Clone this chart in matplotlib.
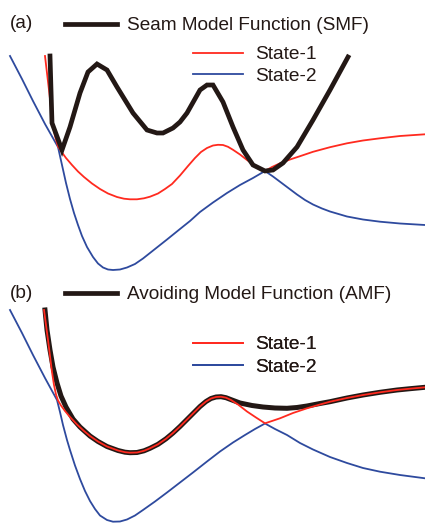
import matplotlib.pyplot as plt
from matplotlib.lines import Line2D

plt.rcParams['font.family'] = ['Liberation Sans', 'DejaVu Sans']

# colours
BLACK = '#231815'
RED = '#ff2a1f'
BLUE = '#2e4a9e'

# ---- panel (a): seam model function (coordinates, y down)
a_blue_x = [10, 22, 33, 45, 58, 62, 66, 70, 74, 78, 82, 87, 93, 98, 103, 108, 113, 120, 127,
            135, 143, 155, 167, 180, 190, 200, 213, 227, 240, 253, 265,
            273, 281, 289, 297, 305, 313, 322, 330, 347, 363, 380, 400, 425]
a_blue_y = [56, 79, 101, 124, 147, 165, 183, 199, 213, 225, 236, 247, 257, 263.5, 267.5, 269.5, 270, 269.5, 267.5,
            264, 258.5, 249, 239.5, 229, 221, 212, 202.5, 193, 185, 178, 171,
            176.5, 182.5, 188.5, 194.5, 200, 204.5, 208.5, 211.5, 216.5, 219.5, 221.7, 223.5, 225]

a_red_x = [45, 47, 49, 51, 53, 55, 57, 58, 62, 66, 72, 78, 84, 92, 100, 108, 117, 124, 130, 137, 144,
           150, 158, 165, 172, 180, 188, 195, 201, 207, 213, 218, 223, 228, 233, 240, 247, 256, 265,
           272, 280, 290, 300, 313, 330, 347, 363, 380, 400, 425]
a_red_y = [56, 73, 90, 108, 126, 136, 143, 146.5, 152.5, 158, 165, 171.5, 177, 183.5, 189, 193.5, 197, 198.7, 199.3, 199.3, 198.3,
           196.7, 193.5, 189, 184, 175.5, 166, 158, 152, 148, 145.5, 144.8, 145, 146.8, 149.8, 154.5, 160, 166, 171,
           167, 163.3, 159.5, 156.2, 151.8, 147.2, 143.3, 140.5, 138.3, 136, 134.3]

a_smf_x = [50, 51, 52, 62, 70, 80, 88, 97, 107, 117, 125, 133, 147, 157, 163, 173, 180, 187,
           200, 207, 213, 223, 233, 243, 253, 265, 273, 283, 297, 313, 330, 348]
a_smf_y = [56, 90, 123, 150, 127, 93, 72, 64, 70, 87, 100, 113, 130, 133, 133, 128, 122, 113,
           90, 85, 85, 102, 127, 150, 165, 171, 170, 163, 147, 120, 90, 57]

# ---- panel (b): avoiding model function
b_blue_x = [10, 22, 33, 45, 57, 60, 63, 67, 70, 75, 80, 85, 90, 95, 100, 107, 113, 120, 127,
            135, 143, 155, 167, 180, 193, 207, 220, 233, 245, 255, 265,
            275, 287, 300, 313, 330, 347, 363, 380, 400, 425]
b_blue_y = [310, 333, 355, 378, 400, 412, 425, 440, 450, 465.5, 479, 491, 501, 509, 515.5, 520, 521.7, 521.5, 519.5,
            515.5, 510, 501.5, 492.5, 482.5, 472.5, 461.5, 451.5, 442.5, 435, 429, 423.5,
            429, 435, 443, 449.5, 457, 463, 468, 471.7, 475, 478.3]

b_red_x = [44, 46, 48, 50, 52, 54, 56, 58, 61, 65, 70, 77, 84, 90, 98, 107, 118, 125, 130, 137, 144,
           150, 158, 166, 173, 180, 187, 194, 200, 206, 211, 216, 221, 226, 231, 238, 247, 256, 265,
           272, 280, 293, 307, 320, 330, 347, 363, 380, 397, 410, 425]
b_red_y = [310, 325, 340, 356, 372, 385, 394.5, 400.5, 405.5, 411, 417, 424.5, 431, 436, 441.5, 446.5, 450.5, 452.2, 452.7, 452.5, 450.8,
           448.3, 444.3, 438.8, 433, 426.5, 419.5, 412.5, 406.5, 401.5, 398.5, 397, 396.7, 397.7, 400, 404.5, 411.5, 417.5, 423.3,
           421, 418.3, 413, 408.3, 404.5, 401.7, 398, 395, 392.3, 390, 388.7, 387.3]

b_amf_x = [45, 47, 50, 53, 57, 61, 66, 73, 80, 90, 98, 107, 118, 125, 130, 137, 144,
           150, 158, 166, 173, 180, 187, 194, 200, 206, 211, 216, 221, 226, 232, 240, 252, 263,
           275, 287, 297, 307, 320, 330, 347, 363, 380, 397, 410, 425]
b_amf_y = [310, 330, 350, 367, 383, 396, 407, 419, 427, 436, 441.5, 446.5, 450.5, 452.2, 452.7, 452.5, 450.8,
           448.3, 444.3, 438.8, 433, 426.5, 419.5, 412.5, 406.5, 401.5, 398.5, 397, 396.7, 397.7, 400, 403, 405.5, 407,
           408, 408.3, 407.5, 406, 403.5, 401.7, 398, 395, 392.3, 390, 388.7, 387.3]

fig = plt.figure(figsize=(4.25, 5.23), dpi=100)
ax = fig.add_axes([0, 0, 1, 1])
ax.set_xlim(0, 425)
ax.set_ylim(523, 0)
ax.axis('off')

ax.plot(a_blue_x, a_blue_y, color=BLUE, lw=1.3)
ax.plot(a_red_x, a_red_y, color=RED, lw=1.3)
ax.plot(a_smf_x, a_smf_y, color=BLACK, lw=3.4, solid_joinstyle='miter')

ax.plot(b_blue_x, b_blue_y, color=BLUE, lw=1.3)
ax.plot(b_amf_x, b_amf_y, color=BLACK, lw=3.6)
ax.plot(b_red_x, b_red_y, color=RED, lw=1.3)

ax.text(10, 24, '(a)', fontsize=13.7, va='center', color=BLACK)
ax.text(10, 293, '(b)', fontsize=13.7, va='center', color=BLACK)


def add_legend(handles, labels, x, y, fs, hl, tp, ls):
    leg = ax.legend(handles, labels, loc='upper left', bbox_to_anchor=(x / 425, 1 - y / 523),
                    bbox_transform=fig.transFigure, frameon=False, fontsize=fs,
                    handlelength=hl, handletextpad=tp, borderpad=0, borderaxespad=0,
                    labelspacing=ls, labelcolor=BLACK)
    ax.add_artist(leg)


black_h = Line2D([], [], color=BLACK, lw=3.4)
red_h = Line2D([], [], color=RED, lw=1.3)
blue_h = Line2D([], [], color=BLUE, lw=1.3)

add_legend([black_h], ['Seam Model Function (SMF)'], 65, 17, 13.7, 2.73, 0.53, 0.3)
add_legend([red_h, blue_h], ['State-1', 'State-2'], 193, 46, 13.8, 2.6, 0.62, 0.2)
add_legend([black_h], ['Avoiding Model Function (AMF)'], 65, 286, 13.7, 2.73, 0.53, 0.3)
add_legend([red_h, blue_h], ['State-1', 'State-2'], 193, 336, 13.8, 2.6, 0.62, 0.28)

fig.savefig('out.png', dpi=100)
